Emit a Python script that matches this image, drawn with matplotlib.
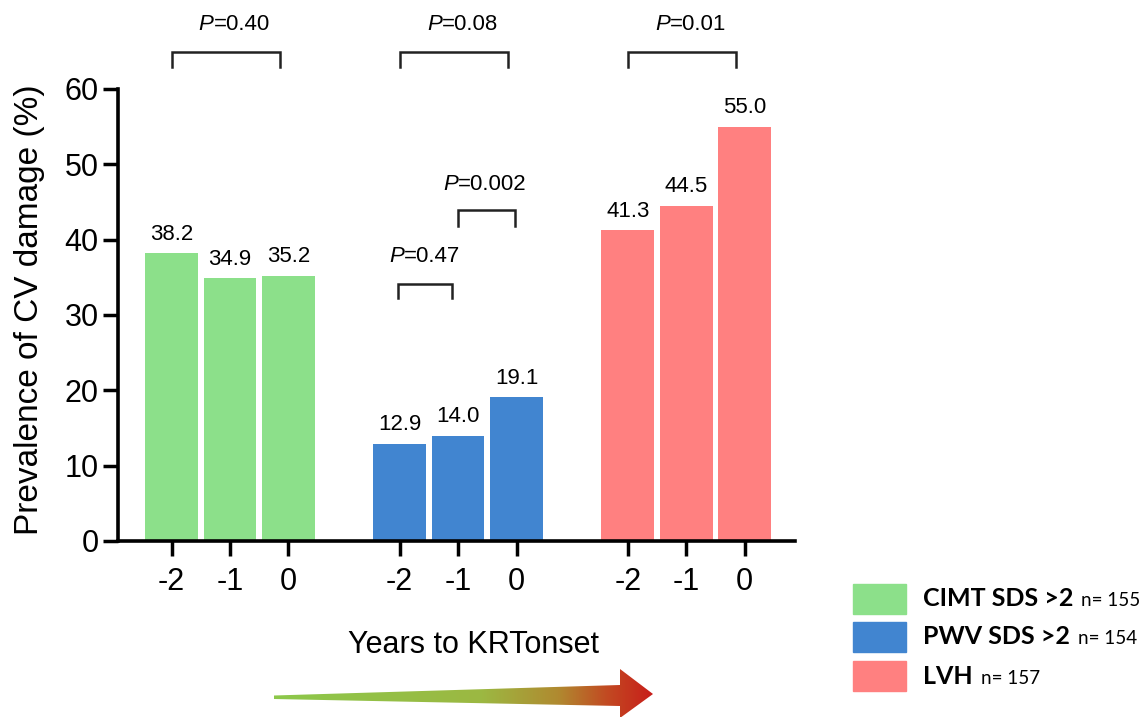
import numpy as np
import matplotlib
matplotlib.use("Agg")
import matplotlib.pyplot as plt
from matplotlib.patches import Polygon
from matplotlib.colors import LinearSegmentedColormap

plt.rcParams['font.family'] = ['Liberation Sans', 'DejaVu Sans']

# data
groups = ['CIMT SDS >2', 'PWV SDS >2', 'LVH']
group_n = ['n= 155', 'n= 154', 'n= 157']
years = ['-2', '-1', '0']
cimt = [38.2, 34.9, 35.2]
pwv = [12.9, 14.0, 19.1]
lvh = [41.3, 44.5, 55.0]
colors = ['#8ce08a', '#4185d0', '#ff8080']

p_group = ['P=0.40', 'P=0.08', 'P=0.01']
p_pwv_pairs = ['P=0.47', 'P=0.002']

W, H = 1147, 717
fig = plt.figure(figsize=(W / 100, H / 100), dpi=100)
ax = fig.add_axes([118 / W, 1 - 541 / H, (795 - 118) / W, (541 - 89) / H])

offsets = [0.0, 3.9, 7.8]
pos_all = []
for gi, vals in enumerate([cimt, pwv, lvh]):
    pos = np.arange(3) + offsets[gi]
    pos_all.extend(pos)
    ax.bar(pos, vals, width=0.9, color=colors[gi], zorder=2)
    for x, v in zip(pos, vals):
        ax.annotate(f'{v:.1f}', (x, v), xytext=(0, 6), textcoords='offset points',
                    ha='center', va='bottom', fontsize=16)

ax.set_xlim(-0.915, 10.66)
ax.set_ylim(0, 60)
ax.set_xticks(pos_all)
ax.set_xticklabels(years * 3, fontsize=22)
ax.set_yticks(range(0, 61, 10))
ax.tick_params(axis='y', labelsize=22, width=2.5, length=11, pad=3)
ax.tick_params(axis='x', width=2.5, length=11, pad=8)
for s in ['top', 'right']:
    ax.spines[s].set_visible(False)
for s in ['left', 'bottom']:
    ax.spines[s].set_linewidth(2.6)


def bracket(x0, x1, ytop, ybot, label, tx, ty):
    ax.plot([x0, x0, x1, x1], [ybot, ytop, ytop, ybot], color='#222222', lw=1.8,
            clip_on=False, solid_joinstyle='miter')
    ax.text(tx, ty, label[0], fontsize=16, style='italic', ha='right', va='center')
    ax.text(tx, ty, label[1:], fontsize=16, ha='left', va='center')


for gi in range(3):
    x0 = offsets[gi]
    bracket(x0, x0 + 1.85, 64.9, 62.9, p_group[gi], x0 + 0.72, 68.5)

bracket(3.88, 4.8, 34.1, 32.3, p_pwv_pairs[0], 3.98, 37.7)
bracket(4.9, 5.87, 43.9, 41.8, p_pwv_pairs[1], 4.9, 47.3)

fig.text(30 / W, 1 - 310 / H, 'Prevalence of CV damage (%)', rotation=90,
         ha='center', va='center', fontsize=24)
fig.text(474 / W, 1 - 645 / H, 'Years to KRTonset', ha='center', va='center', fontsize=22)

# legend
ov = fig.add_axes([0, 0, 1, 1])
ov.set_xlim(0, W)
ov.set_ylim(H, 0)
ov.axis('off')
rows = [599, 637, 676]
fig.canvas.draw()
rend = fig.canvas.get_renderer()
for i in range(3):
    ov.add_patch(plt.Rectangle((853, rows[i] - 15), 53, 30, color=colors[i]))
    t = ov.text(923, rows[i], groups[i], fontsize=18, fontweight='bold',
                family=['Lato', 'DejaVu Sans'], ha='left', va='center')
    bb = t.get_window_extent(renderer=rend)
    xr = bb.x1 + 8
    ov.text(xr, rows[i] + 2, group_n[i], fontsize=13.5, family=['Lato', 'DejaVu Sans'],
            ha='left', va='center')

# gradient arrow
verts = [(274, 695.5), (620, 685), (620, 669), (653, 694), (620, 718), (620, 706), (274, 699)]
arrow = Polygon(verts, closed=True, facecolor='none', edgecolor='none')
ov.add_patch(arrow)
cmap = LinearSegmentedColormap.from_list('arr', [
    (0.0, '#8cc84b'), (0.55, '#9cb842'), (0.75, '#b08a30'), (0.88, '#c24a22'), (1.0, '#c81e1a')])
grad = np.linspace(0, 1, 256).reshape(1, -1)
im = ov.imshow(grad, cmap=cmap, extent=[274, 653, 718, 669], aspect='auto')
im.set_clip_path(arrow)
ov.set_xlim(0, W)
ov.set_ylim(H, 0)

fig.savefig('out.png', dpi=100)
